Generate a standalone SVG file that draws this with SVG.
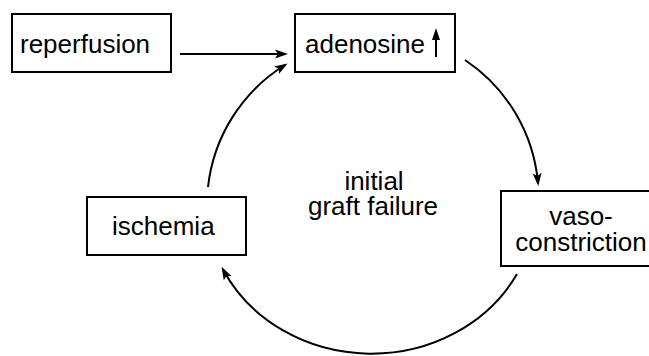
<svg xmlns="http://www.w3.org/2000/svg" width="649" height="356" viewBox="0 0 649 356">
<style>
.box{fill:#fff;stroke:#000;stroke-width:2}
.t{font-family:"Liberation Sans",Arial,sans-serif;font-size:26px;fill:#000}
.c{fill:none;stroke:#000;stroke-width:2;marker-end:url(#ah)}
</style>
<defs>
<marker id="ah" markerUnits="userSpaceOnUse" markerWidth="14" markerHeight="10" refX="10" refY="5" orient="auto">
<path d="M0,0.5 L13,5 L0,9.5 L3,5 Z" fill="#000"/>
</marker>
</defs>
<rect width="649" height="356" fill="#fff"/>
<g id="connectors">
<path class="c" d="M180,54 L285,54"/>
<path class="c" d="M208,187 A165,165 0 0 1 285,65"/>
<path class="c" d="M465,60 A165,165 0 0 1 538,183"/>
<path class="c" d="M517,274 A165,150 0 0 1 223,269.5"/>
</g>
<g id="reperfusion">
<rect class="box" x="12" y="14" width="159" height="58"/>
<text class="t" x="20" y="53">reperfusion</text>
</g>
<g id="adenosine">
<rect class="box" x="295" y="14" width="160" height="58"/>
<text class="t" x="305" y="53">adenosine</text>
<line x1="436" y1="57" x2="436" y2="36" stroke="#000" stroke-width="2"/>
<path d="M436,28 L440,40 L432,40 Z" fill="#000"/>
</g>
<g id="vasoconstriction">
<rect class="box" x="501" y="191" width="160" height="75"/>
<text class="t" x="581" y="225" text-anchor="middle">vaso-</text>
<text class="t" x="581" y="250.5" text-anchor="middle">constriction</text>
</g>
<g id="ischemia">
<rect class="box" x="87" y="197" width="159" height="58"/>
<text class="t" x="112" y="235">ischemia</text>
</g>
<g id="center">
<text class="t" x="374" y="190" text-anchor="middle">initial</text>
<text class="t" x="373" y="215" text-anchor="middle">graft failure</text>
</g>
</svg>
